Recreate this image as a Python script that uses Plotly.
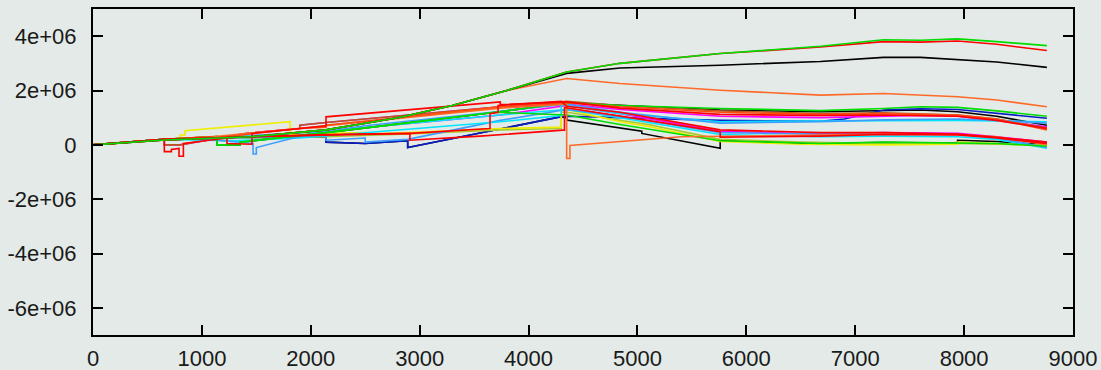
import plotly.graph_objects as go

# ---------------- tick labels ----------------
x_tick_vals = [0, 1000, 2000, 3000, 4000, 5000, 6000, 7000, 8000, 9000]
x_tick_text = ["0", "1000", "2000", "3000", "4000", "5000", "6000", "7000", "8000", "9000"]
y_tick_vals = [-6e6, -4e6, -2e6, 0, 2e6, 4e6]
y_tick_text = ["-6e+06", "-4e+06", "-2e+06", "0", "2e+06", "4e+06"]

# ---------------- series (x in hours, y values) ----------------
top_x = [0, 660, 1460, 2140, 2800, 3300, 3800, 4350, 4840, 5760, 6680, 7260, 7600, 7940, 8300, 8760]
top_green_y = [0, 0.18e6, 0.30e6, 0.55e6, 1.00e6, 1.45e6, 2.00e6, 2.68e6, 3.00e6, 3.36e6, 3.63e6, 3.87e6, 3.85e6, 3.90e6, 3.80e6, 3.65e6]
top_red_y = [0, 0.18e6, 0.30e6, 0.55e6, 1.00e6, 1.45e6, 2.00e6, 2.68e6, 3.00e6, 3.36e6, 3.60e6, 3.80e6, 3.78e6, 3.82e6, 3.70e6, 3.47e6]
top_black_y = [0, 0.18e6, 0.30e6, 0.55e6, 1.00e6, 1.45e6, 2.00e6, 2.63e6, 2.83e6, 2.93e6, 3.07e6, 3.22e6, 3.22e6, 3.14e6, 3.05e6, 2.85e6]

top_orange_x = [0, 660, 1460, 2140, 2800, 3300, 3800, 4350, 4840, 5760, 6680, 7260, 7940, 8300, 8760]
top_orange_y = [0, 0.18e6, 0.30e6, 0.55e6, 1.00e6, 1.45e6, 2.00e6, 2.44e6, 2.26e6, 2.01e6, 1.83e6, 1.89e6, 1.77e6, 1.65e6, 1.40e6]

red_main_x = [0, 655, 655, 720, 720, 790, 790, 830, 830, 1230, 1230, 1460, 1460, 2000, 2140, 2140, 3740, 3740, 4300, 4350, 4840, 5760, 6680, 7260, 7940, 8300, 8760]
red_main_y = [0, 0.20e6, -0.25e6, -0.25e6, -0.17e6, -0.13e6, -0.42e6, -0.42e6, 0.05e6, 0.25e6, 0.05e6, 0.02e6, 0.42e6, 0.66e6, 0.70e6, 1.03e6, 1.58e6, 1.48e6, 1.55e6, 1.58e6, 1.35e6, 1.12e6, 1.08e6, 1.10e6, 1.05e6, 0.90e6, 0.60e6]

mid_green_x = [0, 655, 1140, 1140, 1350, 1350, 2140, 3000, 3700, 4350, 4840, 5760, 6680, 7260, 7600, 7940, 8300, 8760]
mid_green_y = [0, 0.20e6, 0.30e6, 0.00, 0.00, 0.10e6, 0.45e6, 0.85e6, 1.20e6, 1.55e6, 1.45e6, 1.34e6, 1.26e6, 1.34e6, 1.40e6, 1.38e6, 1.25e6, 1.05e6]
mid_black_y = [0, 0.20e6, 0.30e6, 0.00, 0.00, 0.10e6, 0.45e6, 0.85e6, 1.20e6, 1.55e6, 1.45e6, 1.28e6, 1.22e6, 1.25e6, 1.28e6, 1.22e6, 1.05e6, 0.72e6]

mid_blue_x = [0, 655, 1460, 2140, 2140, 2500, 2890, 2890, 4290, 4350, 4840, 5760, 6680, 6900, 7260, 7600, 7940, 8300, 8760]
mid_blue_y = [0, 0.20e6, 0.30e6, 0.30e6, 0.10e6, 0.05e6, 0.15e6, -0.10e6, 1.03e6, 1.05e6, 1.00e6, 0.90e6, 0.87e6, 0.95e6, 1.28e6, 1.33e6, 1.30e6, 1.15e6, 0.98e6]

mid_brown_x = [0, 655, 655, 800, 1400, 1900, 1900, 2140, 3740, 4350, 4840, 5760, 6680, 7260, 7940, 8300, 8760]
mid_brown_y = [0, 0.20e6, 0.00, 0.00, 0.42e6, 0.60e6, 0.72e6, 0.82e6, 1.40e6, 1.60e6, 1.45e6, 1.25e6, 1.15e6, 1.18e6, 1.10e6, 0.95e6, 0.62e6]

mid_magenta_x = [0, 655, 655, 800, 1400, 1900, 1900, 2140, 3740, 4350, 4840, 5760, 6680, 7260, 7600, 7940, 8300, 8760]
mid_magenta_y = [0, 0.20e6, 0.00, 0.00, 0.42e6, 0.60e6, 0.72e6, 0.82e6, 1.40e6, 1.50e6, 1.30e6, 1.05e6, 1.00e6, 1.05e6, 1.08e6, 1.05e6, 0.90e6, 0.66e6]

mid_lightblue_x = [0, 655, 1000, 1470, 1470, 1500, 1500, 2000, 2500, 3740, 4350, 4840, 5760, 6680, 7260, 7940, 8300, 8760]
mid_lightblue_y = [0, 0.20e6, 0.22e6, 0.05e6, -0.34e6, -0.34e6, -0.10e6, 0.42e6, 0.70e6, 1.25e6, 1.50e6, 1.20e6, 0.80e6, 0.85e6, 0.92e6, 0.95e6, 0.90e6, 0.80e6]

mid_cyan_x = [0, 655, 1300, 1900, 3740, 4300, 4300, 4350, 4840, 5760, 6680, 7260, 7940, 8300, 8760]
mid_cyan_y = [0, 0.20e6, 0.15e6, 0.25e6, 0.85e6, 1.08e6, 1.45e6, 1.45e6, 1.15e6, 0.85e6, 0.88e6, 0.90e6, 0.90e6, 0.88e6, 0.85e6]

mid_orange_x = [0, 655, 1100, 1100, 1900, 2140, 2140, 3740, 4350, 4840, 5760, 6680, 7260, 7940, 8300, 8760]
mid_orange_y = [0, 0.20e6, 0.30e6, 0.25e6, 0.60e6, 0.65e6, 0.72e6, 1.40e6, 1.55e6, 1.40e6, 1.20e6, 1.12e6, 1.15e6, 1.10e6, 0.95e6, 0.55e6]

low_black_x = [0, 655, 1460, 2140, 2140, 2500, 2890, 2890, 4290, 4350, 4350, 5040, 5040, 5760, 5760, 6500, 7260, 7940, 7940, 8300, 8760]
low_black_y = [0, 0.20e6, 0.30e6, 0.30e6, 0.10e6, 0.05e6, 0.15e6, -0.10e6, 1.03e6, 1.00e6, 0.91e6, 0.50e6, 0.42e6, -0.13e6, 0.17e6, 0.05e6, 0.08e6, 0.07e6, 0.17e6, 0.12e6, 0.00]

low_yellow_x = [0, 655, 800, 800, 845, 845, 1810, 1810, 2140, 2500, 2500, 2900, 3740, 4300, 4300, 4350, 4840, 5100, 5760, 6500, 7260, 7940, 7940, 8300, 8760]
low_yellow_y = [0, 0.20e6, 0.20e6, 0.36e6, 0.36e6, 0.52e6, 0.85e6, 0.36e6, 0.42e6, 0.45e6, 0.40e6, 0.45e6, 0.60e6, 0.65e6, 1.30e6, 1.30e6, 0.85e6, 0.68e6, 0.12e6, 0.02e6, 0.00, 0.02e6, 0.10e6, 0.05e6, -0.05e6]

low_red_x = [0, 655, 1460, 2140, 2910, 2910, 3554, 4316, 4330, 4330, 4840, 5760, 5760, 6680, 7260, 7940, 8300, 8760]
low_red_y = [0, 0.20e6, 0.30e6, 0.35e6, 0.42e6, 0.17e6, 0.32e6, 0.54e6, 0.54e6, 1.38e6, 1.05e6, 0.48e6, 0.28e6, 0.32e6, 0.38e6, 0.36e6, 0.25e6, 0.05e6]

low_red2_x = [0, 655, 1460, 2140, 2910, 3646, 3646, 3720, 3720, 4300, 4350, 4840, 5760, 6680, 7260, 7940, 8300, 8760]
low_red2_y = [0, 0.20e6, 0.30e6, 0.38e6, 0.42e6, 0.60e6, 1.15e6, 1.20e6, 1.45e6, 1.60e6, 1.42e6, 1.20e6, 0.55e6, 0.45e6, 0.45e6, 0.40e6, 0.28e6, 0.10e6]

low_cyan_x = [0, 655, 1300, 2140, 3740, 4350, 4840, 5760, 6680, 7260, 7940, 8300, 8760]
low_cyan_y = [0, 0.20e6, 0.30e6, 0.50e6, 1.10e6, 1.30e6, 1.00e6, 0.38e6, 0.30e6, 0.32e6, 0.30e6, 0.20e6, -0.12e6]
low_magenta_y = [0, 0.20e6, 0.30e6, 0.50e6, 1.10e6, 1.45e6, 1.15e6, 0.50e6, 0.40e6, 0.45e6, 0.42e6, 0.30e6, 0.10e6]

low_orange_x = [0, 655, 1100, 1900, 2140, 3740, 4350, 4350, 4380, 4380, 5400, 6680, 7260, 7940, 8300, 8760]
low_orange_y = [0, 0.20e6, 0.30e6, 0.60e6, 0.70e6, 1.35e6, 1.50e6, -0.50e6, -0.50e6, -0.02e6, 0.30e6, 0.36e6, 0.40e6, 0.38e6, 0.30e6, 0.00]

low_ygreen_x = [0, 655, 1460, 2140, 2900, 3740, 4300, 4300, 4350, 4840, 5100, 5760, 6500, 7260, 7940, 8300, 8760]
low_ygreen_y = [0, 0.20e6, 0.25e6, 0.30e6, 0.40e6, 0.55e6, 0.60e6, 1.20e6, 1.20e6, 0.90e6, 0.75e6, 0.20e6, 0.10e6, 0.05e6, 0.05e6, 0.02e6, 0.00]

low_green_x = [0, 655, 1140, 1140, 1350, 1350, 2140, 3000, 3700, 4350, 4840, 5760, 6680, 7260, 7940, 8300, 8760]
low_green_y = [0, 0.20e6, 0.30e6, 0.00, 0.00, 0.10e6, 0.45e6, 0.85e6, 1.20e6, 1.10e6, 0.75e6, 0.15e6, 0.05e6, 0.10e6, 0.05e6, 0.05e6, -0.05e6]

low_lightblue_x = [0, 655, 1900, 2140, 2140, 2500, 2500, 2890, 3740, 4350, 4840, 5760, 6680, 7260, 7940, 8300, 8760]
low_lightblue_y = [0, 0.20e6, 0.30e6, 0.35e6, 0.17e6, 0.25e6, 0.10e6, 0.20e6, 0.90e6, 1.30e6, 1.05e6, 0.45e6, 0.40e6, 0.40e6, 0.38e6, 0.25e6, -0.10e6]

# ---------------- colours ----------------
RED = "#ff0000"
GREEN = "#00dd00"
BLUE = "#0a1ec8"
MAGENTA = "#ff00ff"
CYAN = "#00e5ff"
LIGHTBLUE = "#3d9eff"
BROWN = "#b8581f"
ORANGE = "#ff4d10"
ORANGE2 = "#ff6a2a"
BLACK = "#000000"
YELLOW = "#eeee00"
YGREEN = "#a8c832"
BG = "#e3eae7"

# draw order: first drawn is underneath
traces = [
    (low_black_x, low_black_y, BLACK),
    (mid_green_x, mid_black_y, BLACK),
    (mid_blue_x, mid_blue_y, BLUE),
    (mid_magenta_x, mid_magenta_y, MAGENTA),
    (mid_brown_x, mid_brown_y, BROWN),
    (low_cyan_x, low_magenta_y, MAGENTA),
    (low_ygreen_x, low_ygreen_y, YGREEN),
    (low_yellow_x, low_yellow_y, YELLOW),
    (low_cyan_x, low_cyan_y, CYAN),
    (low_lightblue_x, low_lightblue_y, LIGHTBLUE),
    (mid_cyan_x, mid_cyan_y, CYAN),
    (mid_lightblue_x, mid_lightblue_y, LIGHTBLUE),
    (low_green_x, low_green_y, GREEN),
    (mid_green_x, mid_green_y, GREEN),
    (low_orange_x, low_orange_y, ORANGE2),
    (mid_orange_x, mid_orange_y, ORANGE),
    (low_red_x, low_red_y, RED),
    (low_red2_x, low_red2_y, RED),
    (red_main_x, red_main_y, RED),
    (top_orange_x, top_orange_y, ORANGE2),
    (top_x, top_black_y, BLACK),
    (top_x, top_red_y, RED),
    (top_x, top_green_y, GREEN),
]

fig = go.Figure()
for xs, ys, col in traces:
    fig.add_trace(go.Scatter(x=xs, y=ys, mode="lines",
                             line=dict(color=col, width=1.6),
                             showlegend=False, hoverinfo="skip"))

axis_common = dict(
    ticks="inside", ticklen=10, tickwidth=1.5, tickcolor="#000",
    showline=True, linewidth=2, linecolor="#000", mirror="ticks",
    showgrid=False, zeroline=False, automargin=False,
    tickfont=dict(family="Liberation Sans, Arial, sans-serif", size=22, color="#1a1a1a"),
)

fig.update_xaxes(range=[0, 9000], tickmode="array", tickvals=x_tick_vals,
                 ticktext=x_tick_text, ticklabelstandoff=3, **axis_common)
fig.update_yaxes(range=[-7e6, 5e6], tickmode="array", tickvals=y_tick_vals,
                 ticktext=y_tick_text, ticklabelstandoff=10, **axis_common)

fig.update_layout(
    width=1101, height=370,
    margin=dict(l=93, r=28, t=9, b=35, autoexpand=False),
    paper_bgcolor=BG, plot_bgcolor=BG,
    showlegend=False,
)

fig.write_html("out.html")
